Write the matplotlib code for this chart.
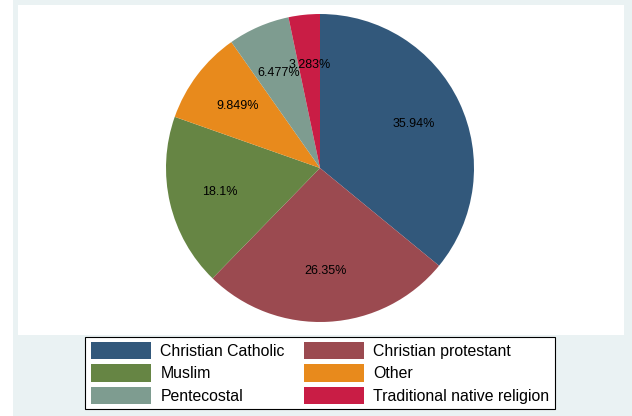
import numpy as np
import matplotlib.pyplot as plt
from matplotlib.patches import Patch, Rectangle

plt.rcParams["font.family"] = ["Liberation Sans", "DejaVu Sans"]

religions = ["Christian Catholic", "Christian protestant", "Muslim",
             "Other", "Pentecostal", "Traditional native religion"]
shares = [35.94, 26.35, 18.1, 9.849, 6.477, 3.283]
pct_labels = ["35.94%", "26.35%", "18.1%", "9.849%", "6.477%", "3.283%"]
colors = ["#32587B", "#9B4A50", "#668544", "#E88A1C", "#7E9C90", "#C91D45"]

W, H = 632, 416
fig = plt.figure(figsize=(W / 100, H / 100), dpi=100)
fig.patch.set_facecolor("white")

# light graph region background
fig.patches.append(Rectangle((13 / W, 0), 1 - 13 / W, 1, transform=fig.transFigure,
                             facecolor="#EAF2F3", edgecolor="none", zorder=-5))

# plot region in pixel coordinates
x0, x1, ytop, ybot = 18, 624, 5, 335
ax = fig.add_axes([x0 / W, (H - ybot) / H, (x1 - x0) / W, (ybot - ytop) / H])
ax.set_zorder(2)
ax.set_facecolor("white")

cx, cy, r = 320, H - 168, 154
wedges, _ = ax.pie(shares, colors=colors, startangle=90, counterclock=False,
                   center=(cx, cy), radius=r, frame=True,
                   wedgeprops=dict(linewidth=0))
for w, lab in zip(wedges, pct_labels):
    mid = np.deg2rad((w.theta1 + w.theta2) / 2)
    ax.text(cx + 0.67 * r * np.cos(mid), cy + 0.67 * r * np.sin(mid), lab,
            ha="center", va="center", fontsize=9, color="black")

ax.set_xlim(x0, x1)
ax.set_ylim(H - ybot, H - ytop)
ax.set_aspect("equal")
for s in ax.spines.values():
    s.set_visible(False)
ax.set_xticks([])
ax.set_yticks([])

handles = [Patch(facecolor=c, edgecolor="none") for c in colors]
order = [0, 2, 4, 1, 3, 5]
leg = fig.legend([handles[i] for i in order], [religions[i] for i in order],
                 ncol=2, loc="center", bbox_to_anchor=(320 / W, (H - 373) / H),
                 fontsize=11.4, frameon=True, fancybox=False, edgecolor="black",
                 facecolor="white", framealpha=1,
                 handlelength=3.8, handleheight=1.3, columnspacing=1.2,
                 labelspacing=0.32, borderpad=0.35, handletextpad=0.6)
leg.get_frame().set_linewidth(0.8)
leg.set_zorder(3)

fig.savefig("out.png", dpi=100, facecolor="white")
